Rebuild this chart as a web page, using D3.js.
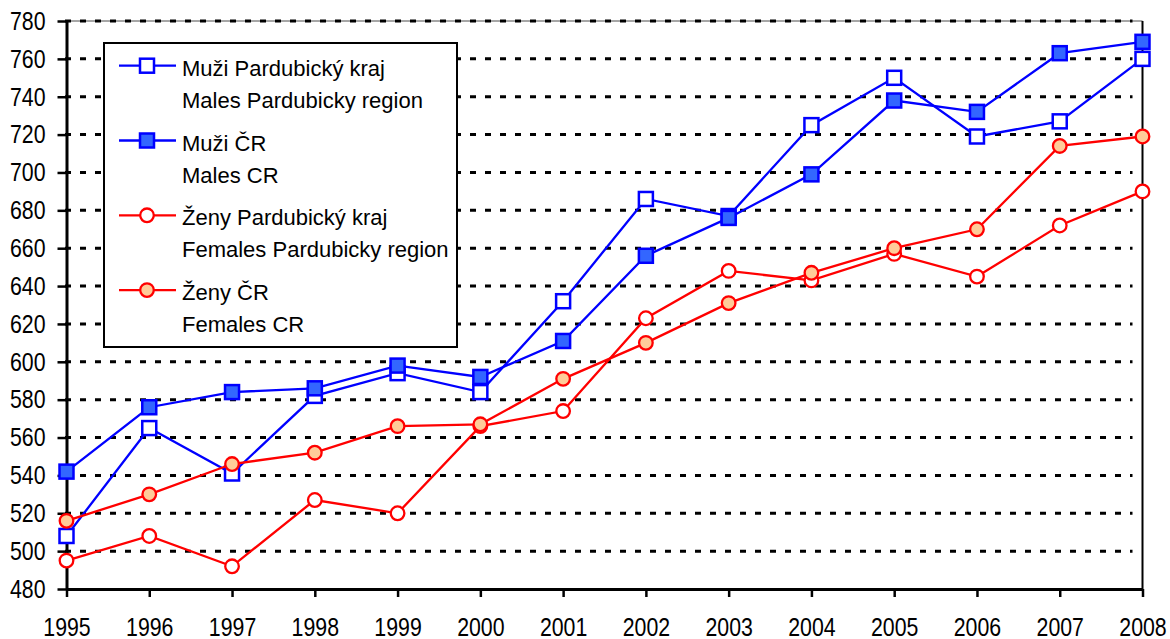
<!DOCTYPE html>
<html>
<head>
<meta charset="utf-8">
<script src="https://cdn.jsdelivr.net/npm/d3@7"></script>
<style>
  body { margin: 0; background: #fff; }
  text { font-family: "Liberation Sans", Arial, sans-serif; fill: #000; }
</style>
</head>
<body>
<div id="chart"></div>
<script>
// --> DATA
var years = [1995, 1996, 1997, 1998, 1999, 2000, 2001, 2002, 2003, 2004, 2005, 2006, 2007, 2008];
var muziPardubice = [508, 565, 541, 582, 594, 584, 632, 686, 677, 725, 750, 719, 727, 760];
var muziCR = [542, 576, 584, 586, 598, 592, 611, 656, 676, 699, 738, 732, 763, 769];
var zenyPardubice = [495, 508, 492, 527, 520, 566, 574, 623, 648, 643, 657, 645, 672, 690];
var zenyCR = [516, 530, 546, 552, 566, 567, 591, 610, 631, 647, 660, 670, 714, 719];
var yTicks = [480, 500, 520, 540, 560, 580, 600, 620, 640, 660, 680, 700, 720, 740, 760, 780];
var legendCz = ["Muži Pardubický kraj", "Muži ČR", "Ženy Pardubický kraj", "Ženy ČR"];
var legendEn = ["Males Pardubicky region", "Males CR", "Females Pardubicky region", "Females CR"];

// series styles, drawn in this order (later ones on top)
var series = [
    {values: muziPardubice, color: "#0000ff", shape: "square", fill: "#ffffff"},
    {values: muziCR, color: "#0000ff", shape: "square", fill: "#3366ff"},
    {values: zenyPardubice, color: "#ff0000", shape: "circle", fill: "#ffffff"},
    {values: zenyCR, color: "#ff0000", shape: "circle", fill: "#ffcc99"}
];

// --> SVG DRAWING AREA
var width = 1170,
    height = 639;
var margin = {top: 21, right: 27.5, bottom: 50, left: 66.5};

var svg = d3.select("#chart").append("svg")
    .attr("width", width)
    .attr("height", height);

var x = d3.scaleLinear()
    .domain([years[0], years[years.length - 1]])
    .range([margin.left, width - margin.right]);

var y = d3.scaleLinear()
    .domain([480, 780])
    .range([height - margin.bottom, margin.top]);

// gray frame on top, solid border on the right
svg.append("line")
    .attr("x1", x.range()[0]).attr("x2", x.range()[1])
    .attr("y1", y(780)).attr("y2", y(780))
    .attr("stroke", "#888").attr("stroke-width", 1.5);
svg.append("line")
    .attr("x1", x.range()[1]).attr("x2", x.range()[1])
    .attr("y1", y(780)).attr("y2", y(480))
    .attr("stroke", "#000").attr("stroke-width", 2);

// dashed gridlines
svg.append("g")
    .selectAll("line")
    .data(yTicks.filter(function (d) { return d > 480; }))
    .enter()
    .append("line")
    .attr("x1", x.range()[0] - 1.5)
    .attr("x2", x.range()[1] - 10)
    .attr("y1", function (d) { return y(d); })
    .attr("y2", function (d) { return y(d); })
    .attr("stroke", "#000")
    .attr("stroke-width", 3)
    .attr("stroke-dasharray", "6,9");

// --> AXES
var tickScale = 0.82; // tick labels look condensed

var yAxis = svg.append("g")
    .attr("transform", "translate(" + margin.left + ",0)")
    .call(d3.axisLeft(y).tickValues(yTicks).tickSize(9).tickPadding(12).tickSizeOuter(0));
yAxis.select(".domain").attr("stroke-width", 3);
yAxis.selectAll(".tick line").attr("stroke-width", 2.5);
yAxis.selectAll(".tick text")
    .attr("font-size", 26)
    .attr("font-family", "'Liberation Sans', Arial, sans-serif")
    .attr("x", -21 / tickScale)
    .attr("transform", "scale(" + tickScale + ",1)");

var xAxis = svg.append("g")
    .attr("transform", "translate(0," + (height - margin.bottom) + ")")
    .call(d3.axisBottom(x).tickValues(years).tickFormat(d3.format("d")).tickSize(8).tickPadding(21).tickSizeOuter(0));
xAxis.select(".domain").attr("stroke-width", 3);
xAxis.selectAll(".tick line").attr("stroke-width", 2.5);
xAxis.selectAll(".tick text")
    .attr("font-size", 26)
    .attr("font-family", "'Liberation Sans', Arial, sans-serif")
    .attr("transform", "scale(" + tickScale + ",1)");

// --> LEGEND (white box hides the gridlines behind it)
var legend = svg.append("g");
legend.append("rect")
    .attr("x", 104).attr("y", 43)
    .attr("width", 353).attr("height", 304)
    .attr("fill", "#fff").attr("stroke", "#000").attr("stroke-width", 2);

// marker helper
function drawMarker(sel, s) {
    if (s.shape === "square") {
        sel.append("rect")
            .attr("x", -7).attr("y", -7)
            .attr("width", 14).attr("height", 14)
            .attr("fill", s.fill).attr("stroke", s.color).attr("stroke-width", 2.5);
    } else {
        sel.append("circle")
            .attr("r", 6.8)
            .attr("fill", s.fill).attr("stroke", s.color).attr("stroke-width", 2.3);
    }
}

series.forEach(function (s, i) {
    var cy = 65.7 + i * 74.8;
    var item = legend.append("g").attr("transform", "translate(0," + cy + ")");
    item.append("line")
        .attr("x1", 119).attr("x2", 176)
        .attr("stroke", s.color).attr("stroke-width", 2.3);
    drawMarker(item.append("g").attr("transform", "translate(147,0)"), s);
    item.append("text")
        .attr("x", 182).attr("y", 10)
        .attr("font-size", 22)
        .text(legendCz[i]);
    item.append("text")
        .attr("x", 182).attr("y", 42)
        .attr("font-size", 22)
        .text(legendEn[i]);
});

// --> LINES AND MARKERS
var line = d3.line()
    .x(function (d, i) { return x(years[i]); })
    .y(function (d) { return y(d); });

series.forEach(function (s) {
    var g = svg.append("g");
    g.append("path")
        .attr("d", line(s.values))
        .attr("fill", "none")
        .attr("stroke", s.color)
        .attr("stroke-width", 2.3);
    g.selectAll("g.pt")
        .data(s.values)
        .enter()
        .append("g")
        .attr("class", "pt")
        .attr("transform", function (d, i) { return "translate(" + x(years[i]) + "," + y(d) + ")"; })
        .each(function () { drawMarker(d3.select(this), s); });
});
</script>
</body>
</html>
